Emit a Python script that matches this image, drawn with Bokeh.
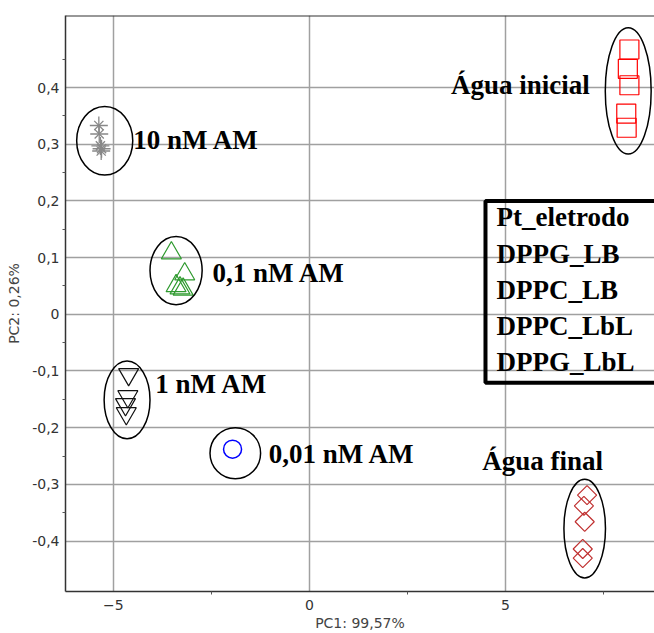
from bokeh.plotting import figure
from bokeh.models import FixedTicker, CustomJSTickFormatter, Span
from bokeh.core.properties import value
from bokeh.embed import file_html
from bokeh.resources import INLINE
import math

# ---- data ----
am10_x = [-5.37, -5.36, -5.33, -5.30, -5.31]
am10_y = [0.333, 0.318, 0.297, 0.292, 0.288]

am01_x = [-3.52, -3.18, -3.40, -3.30, -3.22]
am01_y = [0.108, 0.071, 0.050, 0.046, 0.044]

am1_x = [-4.61, -4.63, -4.69, -4.67]
am1_y = [-0.106, -0.145, -0.159, -0.175]

am001_x = [-1.96]
am001_y = [-0.238]

agua_ini_x = [8.16, 8.12, 8.16, 8.08, 8.09]
agua_ini_y = [0.467, 0.433, 0.404, 0.354, 0.329]

agua_fin_x = [7.08, 7.00, 7.02, 6.97, 6.97]
agua_fin_y = [-0.319, -0.338, -0.366, -0.414, -0.430]

# group ellipses: centre x, centre y, width, height
ell_x = [-5.22, -3.40, -4.65, -1.89, 8.13, 7.02]
ell_y = [0.306, 0.077, -0.151, -0.245, 0.394, -0.378]
ell_w = [1.43, 1.33, 1.17, 1.29, 1.17, 1.06]
ell_h = [0.121, 0.120, 0.137, 0.090, 0.223, 0.174]

group_labels = ["10 nM AM", "0,1 nM AM", "1 nM AM", "0,01 nM AM", "Água inicial", "Água final"]
legend_labels = ["Pt_eletrodo", "DPPG_LB", "DPPC_LB", "DPPC_LbL", "DPPG_LbL"]

x_ticks = [-5, 0, 5]
x_minor = [-2.5, 2.5, 7.5]
y_ticks = [-0.4, -0.3, -0.2, -0.1, 0, 0.1, 0.2, 0.3, 0.4]
y_minor = [-0.35, -0.25, -0.15, -0.05, 0.05, 0.15, 0.25, 0.35, 0.45]

X_RANGE = (-6.22, 8.80)
Y_RANGE = (-0.489, 0.527)

p = figure(width=654, height=633, x_range=X_RANGE, y_range=Y_RANGE,
           output_backend="svg", toolbar_location=None,
           min_border_left=65, min_border_right=0, min_border_top=15, min_border_bottom=40,
           x_axis_label="PC1: 99,57%", y_axis_label="PC2: 0,26%")
p.outline_line_color = None
p.background_fill_color = "white"
p.border_fill_color = "white"

xt = FixedTicker(ticks=x_ticks, minor_ticks=x_minor)
yt = FixedTicker(ticks=y_ticks, minor_ticks=y_minor)
p.xaxis.ticker = xt
p.yaxis.ticker = yt
p.xgrid.ticker = xt
p.ygrid.ticker = yt
p.yaxis.formatter = CustomJSTickFormatter(
    code="if (Math.abs(tick) < 1e-9) { return '0'; } return tick.toFixed(1).replace('.', ',');")

for ax in (p.xaxis, p.yaxis):
    ax.axis_line_color = "#333333"
    ax.axis_line_width = 1.5
    ax.major_tick_out = 0
    ax.major_tick_in = 0
    ax.minor_tick_out = 3
    ax.minor_tick_in = 0
    ax.minor_tick_line_color = "#555555"
    ax.major_label_text_font = "DejaVu Sans"
    ax.major_label_text_font_size = "14px"
    ax.major_label_text_color = "#333333"
    ax.axis_label_text_font = "DejaVu Sans"
    ax.axis_label_text_font_size = "14px"
    ax.axis_label_text_font_style = "normal"
    ax.axis_label_text_color = "#444444"
p.xaxis.major_label_standoff = 5
p.xaxis.axis_label_standoff = 2
p.yaxis.major_label_standoff = 3
p.yaxis.axis_label_standoff = 7

for g in (p.xgrid, p.ygrid):
    g.grid_line_color = "#a0a0a0"
    g.grid_line_width = 1.5

p.add_layout(Span(location=Y_RANGE[1], dimension="width", line_color="#333333", line_width=2))

# markers
p.scatter(am10_x, am10_y, marker="cross", size=18, line_color="#888888", line_width=1.3)
p.scatter(am10_x, am10_y, marker="x", size=13, line_color="#888888", line_width=1.3)
p.scatter(am01_x, am01_y, marker="triangle", size=20, fill_color=None,
          line_color="#2f9a2f", line_width=1.2)
p.scatter(am1_x, am1_y, marker="inverted_triangle", size=20, fill_color=None,
          line_color="#111111", line_width=1.2)
p.scatter(am001_x, am001_y, marker="circle", size=18, fill_color=None,
          line_color="#0000ff", line_width=1.5)
p.scatter(agua_ini_x, agua_ini_y, marker="square", size=19, fill_color=None,
          line_color="#ff0000", line_width=1.2)
p.scatter(agua_fin_x, agua_fin_y, marker="square", size=13.5, angle=math.pi / 4,
          fill_color=None, line_color="#c03030", line_width=1.2)

p.ellipse(x=ell_x, y=ell_y, width=ell_w, height=ell_h, fill_color=None,
          line_color="black", line_width=1.5)

# group labels (baseline anchors)
TXT_DY = 0.017
lab_x = [-4.49, -2.47, -3.93, -1.04, 3.61, 4.41]
lab_y = [v + TXT_DY for v in [0.290, 0.055, -0.140, -0.264, 0.387, -0.275]]
p.text(x=lab_x, y=lab_y, text=group_labels, text_font=value("Liberation Serif"),
       text_font_style="bold", text_font_size="27px", text_baseline="alphabetic",
       text_align="left", text_color="black")

# legend-like box (right side runs past the frame and is clipped, as in the reference)
p.quad(left=[4.49], right=[12.0], top=[0.200], bottom=[-0.121],
       fill_color=None, line_color="black", line_width=4)
leg_y0, leg_step = 0.154 + TXT_DY, -0.064
leg_x = [4.77] * len(legend_labels)
leg_y = [leg_y0 + i * leg_step for i in range(len(legend_labels))]
p.text(x=leg_x, y=leg_y, text=legend_labels, text_font=value("Liberation Serif"),
       text_font_style="bold", text_font_size="27px", text_baseline="alphabetic",
       text_align="left", text_color="black")

open("out.html", "w").write(file_html(p, INLINE))
